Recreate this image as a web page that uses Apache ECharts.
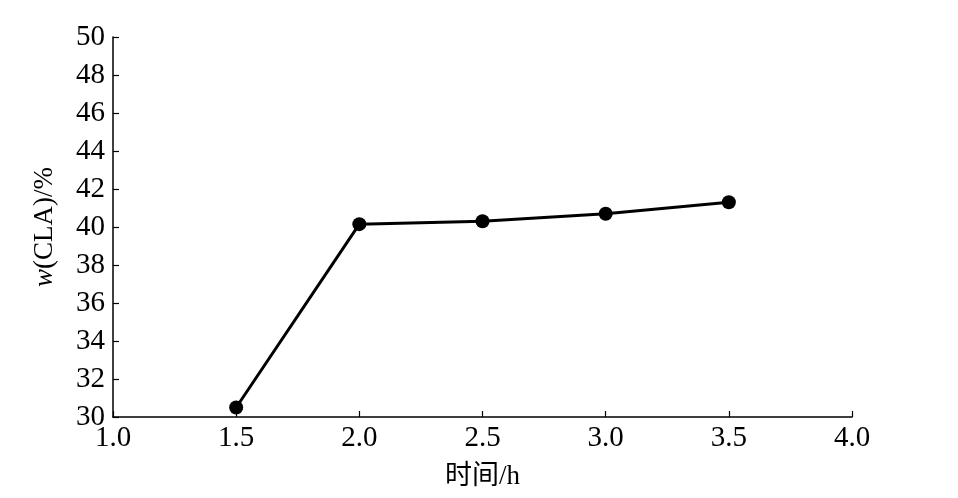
<!DOCTYPE html>
<html>
<head>
<meta charset="utf-8">
<script src="https://cdn.jsdelivr.net/npm/echarts@6/dist/echarts.min.js"></script>
<style>
  html, body { margin: 0; padding: 0; background: #fff; }
  #chart { width: 958px; height: 498px; }
</style>
</head>
<body>
<div id="chart"></div>
<script>
// reaction time (h) vs CLA content
const hours = [1.5, 2.0, 2.5, 3.0, 3.5];
const claValues = [30.5, 40.15, 40.3, 40.7, 41.3];
const xTicks = ['1.0', '1.5', '2.0', '2.5', '3.0', '3.5', '4.0'];

const font = '"Liberation Serif", "Noto Sans CJK SC", serif';

const chart = echarts.init(document.getElementById('chart'));

const option = {
  animation: false,
  grid: { left: 113, right: 106, top: 37, bottom: 81 },
  xAxis: {
    type: 'value',
    min: 1.0,
    max: 4.0,
    interval: 0.5,
    name: '时间/h',
    nameLocation: 'middle',
    nameGap: 46,
    nameTextStyle: { fontFamily: font, fontSize: 27, color: '#000' },
    axisLine: { lineStyle: { color: '#000', width: 1.5 } },
    axisTick: { inside: true, length: 6, lineStyle: { color: '#000', width: 1.2 } },
    axisLabel: {
      fontFamily: font, fontSize: 29, color: '#000', margin: 7,
      formatter: (v) => xTicks.find(t => Math.abs(parseFloat(t) - v) < 1e-6) || ''
    },
    splitLine: { show: false }
  },
  yAxis: {
    type: 'value',
    min: 30,
    max: 50,
    interval: 2,
    name: '{i|w}{n|(CLA)/%}',
    nameLocation: 'middle',
    nameGap: 55,
    nameTextStyle: {
      rich: {
        i: { fontFamily: font, fontSize: 27, fontStyle: 'italic', color: '#000' },
        n: { fontFamily: font, fontSize: 27, color: '#000' }
      }
    },
    axisLine: { show: true, lineStyle: { color: '#000', width: 1.5 } },
    axisTick: { show: true, inside: true, length: 6, lineStyle: { color: '#000', width: 1.2 } },
    axisLabel: { fontFamily: font, fontSize: 29, color: '#000', margin: 8 },
    splitLine: { show: false }
  },
  series: [{
    type: 'line',
    data: hours.map((h, i) => [h, claValues[i]]),
    symbol: 'circle',
    symbolSize: 14,
    itemStyle: { color: '#000' },
    lineStyle: { color: '#000', width: 3 }
  }]
};

chart.setOption(option);
</script>
</body>
</html>
